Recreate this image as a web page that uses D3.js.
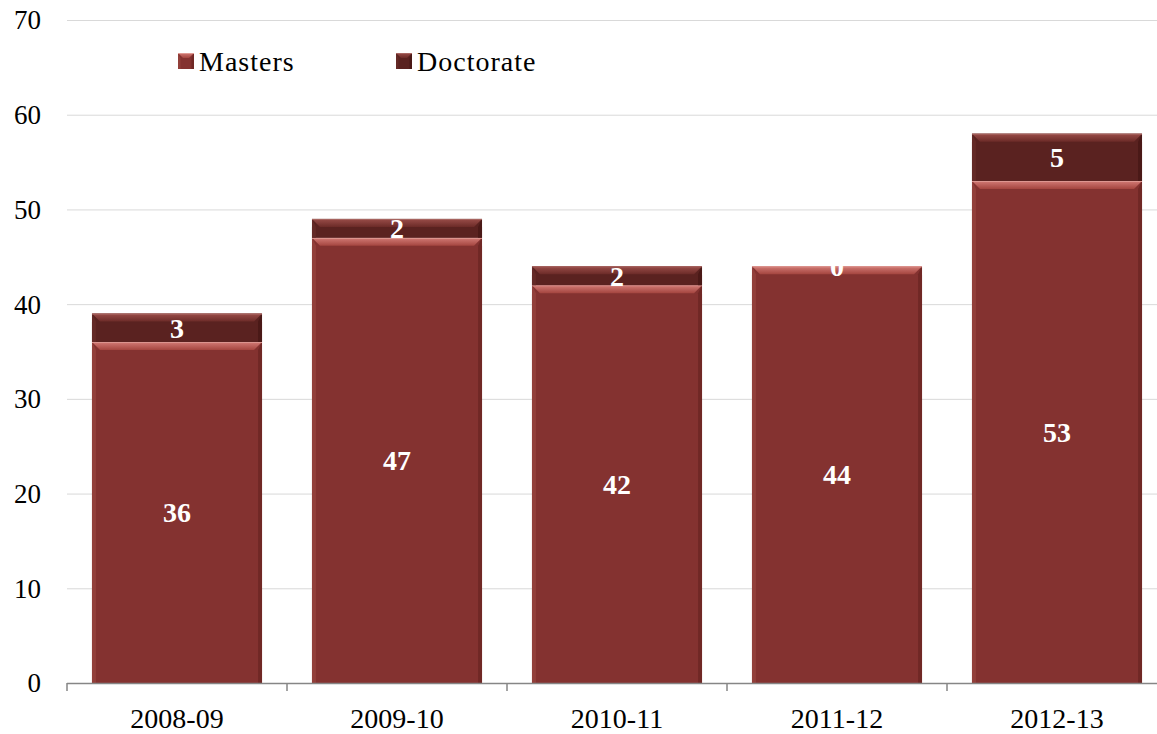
<!DOCTYPE html>
<html>
<head>
<meta charset="utf-8">
<script src="https://cdn.jsdelivr.net/npm/d3@7"></script>
<style>
  body { margin: 0; background: #fff; }
  svg { display: block; }
  text { font-family: "Liberation Serif", "DejaVu Serif", serif; }
</style>
</head>
<body>
<svg width="1157" height="734"></svg>
<script>
// data
var years     = ["2008-09", "2009-10", "2010-11", "2011-12", "2012-13"];
var masters   = [36, 47, 42, 44, 53];
var doctorate = [3, 2, 2, 0, 5];
var yTicks    = [0, 10, 20, 30, 40, 50, 60, 70];

var svg     = d3.select("svg");
var plotL   = 67,  plotR = 1167;   // last band runs off the edge
var plotT   = 20,  plotB = 683;
var bevel   = 8;

var x = d3.scaleBand()
    .domain(years)
    .range([plotL, plotR])
    .paddingInner(0.227)
    .paddingOuter(0.1135);

var y = d3.scaleLinear()
    .domain([0, 70])
    .range([plotB, plotT]);

// gradients for the bevel strips
var defs = svg.append("defs");
function grad(id, c1, c2) {
  var g = defs.append("linearGradient").attr("id", id)
      .attr("x1", 0).attr("y1", 0).attr("x2", 0).attr("y2", 1);
  g.append("stop").attr("offset", "0%").attr("stop-color", c1);
  g.append("stop").attr("offset", "100%").attr("stop-color", c2);
}
grad("topM", "#d27a75", "#a4453f");
grad("topD", "#9a4d49", "#6c2b28");

// gridlines
svg.append("g")
  .selectAll("line")
  .data(yTicks.filter(function(d) { return d > 0; }))
  .enter().append("line")
    .attr("x1", plotL).attr("x2", 1157)
    .attr("y1", function(d) { return y(d) + 0.5; })
    .attr("y2", function(d) { return y(d) + 0.5; })
    .attr("stroke", "#d9d9d9")
    .attr("stroke-width", 1);

// y tick labels
svg.append("g")
  .selectAll("text")
  .data(yTicks)
  .enter().append("text")
    .attr("x", 41)
    .attr("y", function(d) { return y(d); })
    .attr("dy", "0.35em")
    .attr("text-anchor", "end")
    .attr("font-size", 27)
    .attr("fill", "#000")
    .text(function(d) { return d; });

// stacked segments
var segs = [];
years.forEach(function(yr, i) {
  segs.push({ yr: yr, v: masters[i],   y0: 0,          y1: masters[i],                key: "M" });
  segs.push({ yr: yr, v: doctorate[i], y0: masters[i], y1: masters[i] + doctorate[i], key: "D" });
});

var fills = { M: "#843230", D: "#5a2220" };
var sideL = { M: "#94403c", D: "#652a27" };
var sideR = { M: "#6e2725", D: "#481816" };

function drawBevelBox(g, x0, y0, x1, y1, key, b) {
  var h = y1 - y0;
  var bb = Math.min(b, h / 2, (x1 - x0) / 2);
  g.append("rect")
    .attr("x", x0).attr("y", y0)
    .attr("width", x1 - x0).attr("height", h)
    .attr("fill", fills[key]);
  if (h <= 0) return;
  // left edge
  g.append("polygon")
    .attr("points", [[x0, y0], [x0 + bb * 0.5, y0 + bb], [x0 + bb * 0.5, y1], [x0, y1]].join(" "))
    .attr("fill", sideL[key]).attr("opacity", 0.9);
  // right edge
  g.append("polygon")
    .attr("points", [[x1, y0], [x1 - bb * 0.5, y0 + bb], [x1 - bb * 0.5, y1], [x1, y1]].join(" "))
    .attr("fill", sideR[key]).attr("opacity", 0.9);
  // top strip
  g.append("polygon")
    .attr("points", [[x0, y0], [x1, y0], [x1 - bb, y0 + bb], [x0 + bb, y0 + bb]].join(" "))
    .attr("fill", "url(#top" + key + ")");
  g.append("line")
    .attr("x1", x0).attr("x2", x1)
    .attr("y1", y0 + 0.5).attr("y2", y0 + 0.5)
    .attr("stroke", key === "M" ? "#e09a94" : "#a86662")
    .attr("stroke-width", 1);
}

var bars = svg.append("g");
segs.forEach(function(d) {
  var x0 = x(d.yr), x1 = x(d.yr) + x.bandwidth();
  var yt = y(d.y1), yb = y(d.y0);
  if (d.v > 0) drawBevelBox(bars.append("g"), x0, yt, x1, yb, d.key, bevel);
});

// value labels (a zero label sits on the bar top and is cut by it)
svg.append("g")
  .selectAll("text")
  .data(segs)
  .enter().append("text")
    .attr("x", function(d) { return x(d.yr) + x.bandwidth() / 2; })
    .attr("y", function(d) { return (y(d.y0) + y(d.y1)) / 2; })
    .attr("dy", "0.35em")
    .attr("text-anchor", "middle")
    .attr("font-size", 28)
    .attr("font-weight", "bold")
    .attr("fill", "#fff")
    .text(function(d) { return d.v; });

// x axis
var ax = svg.append("g");
ax.append("line")
  .attr("x1", plotL).attr("x2", 1157)
  .attr("y1", plotB + 0.5).attr("y2", plotB + 0.5)
  .attr("stroke", "#868686").attr("stroke-width", 1.5);
ax.selectAll(".tk")
  .data(d3.range(years.length + 1))
  .enter().append("line")
    .attr("x1", function(i) { return plotL + i * x.step(); })
    .attr("x2", function(i) { return plotL + i * x.step(); })
    .attr("y1", plotB).attr("y2", plotB + 8)
    .attr("stroke", "#868686").attr("stroke-width", 1.5);
ax.selectAll("text")
  .data(years)
  .enter().append("text")
    .attr("x", function(d) { return x(d) + x.bandwidth() / 2; })
    .attr("y", 718)
    .attr("dy", "0.35em")
    .attr("text-anchor", "middle")
    .attr("font-size", 28)
    .attr("fill", "#000")
    .text(function(d) { return d; });

// legend
var legendItems = [
  { name: "Masters",   key: "M", x: 178 },
  { name: "Doctorate", key: "D", x: 396 }
];
var lg = svg.append("g");
legendItems.forEach(function(d) {
  var g = lg.append("g");
  drawBevelBox(g, d.x, 53, d.x + 16, 69, d.key, 5);
  g.append("text")
    .attr("x", d.x + 21)
    .attr("y", 61)
    .attr("dy", "0.35em")
    .attr("font-size", 28)
    .attr("letter-spacing", 1)
    .attr("fill", "#000")
    .text(d.name);
});
</script>
</body>
</html>
